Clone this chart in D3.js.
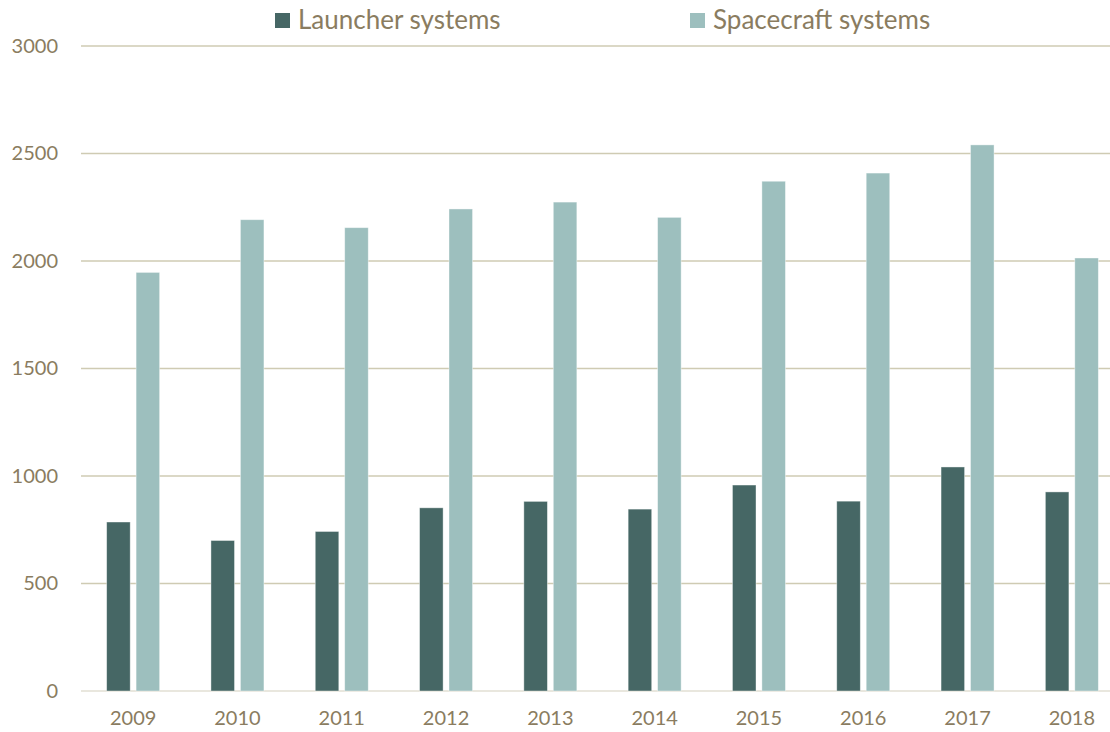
<!DOCTYPE html>
<html>
<head>
<meta charset="utf-8">
<script src="https://cdn.jsdelivr.net/npm/d3@7"></script>
<style>
  body { margin: 0; background: #fff; }
  svg { display: block; font-family: Lato, "Open Sans", sans-serif; }
</style>
</head>
<body>
<div id="container"></div>
<script>
// data
var years = ["2009","2010","2011","2012","2013","2014","2015","2016","2017","2018"];
var launcher = [786, 700, 742, 852, 882, 846, 958, 883, 1042, 926];
var spacecraft = [1947, 2192, 2155, 2242, 2274, 2203, 2371, 2409, 2540, 2014];
var seriesNames = ["Launcher systems", "Spacecraft systems"];
var yTicks = [0, 500, 1000, 1500, 2000, 2500, 3000];

var colors = ["#466765", "#9dbfbe"];
var textColor = "#8a7c60";

var W = 1110, H = 732;
var margin = {top: 46, right: -14, bottom: 41, left: 81};
var width = W - margin.left - margin.right;
var height = H - margin.top - margin.bottom;

var svg = d3.select("#container")
  .append("svg")
    .attr("width", W)
    .attr("height", H);

var g = svg.append("g")
  .attr("transform", "translate(" + margin.left + "," + margin.top + ")");

var x0 = d3.scaleBand()
  .domain(years)
  .range([0, width])
  .padding(0);

var x1 = d3.scaleBand()
  .domain(seriesNames)
  .range([-26.5, 26.5])
  .paddingInner(0.2);

var y = d3.scaleLinear()
  .domain([0, 3000])
  .range([height, 0]);

// gridlines
g.append("g")
  .selectAll("line")
  .data(yTicks)
  .enter()
  .append("line")
    .attr("x1", 0)
    .attr("x2", width)
    .attr("y1", function (d) { return y(d); })
    .attr("y2", function (d) { return y(d); })
    .attr("stroke", function (d) { return d === 0 ? "#e2dfd3" : "#cfcbb3"; })
    .attr("stroke-width", 1.6);

// y axis labels
var yAxis = g.append("g")
  .call(d3.axisLeft(y).tickValues(yTicks).tickFormat(d3.format("d")).tickSize(0).tickPadding(23));
yAxis.select(".domain").remove();
yAxis.attr("font-family", null);
yAxis.selectAll("text")
  .attr("fill", textColor)
  .style("font-size", "20px");

// x axis labels
var xAxis = g.append("g")
  .attr("transform", "translate(0," + height + ")")
  .call(d3.axisBottom(x0).tickSize(0).tickPadding(20));
xAxis.select(".domain").remove();
xAxis.attr("font-family", null);
xAxis.selectAll("text")
  .attr("fill", textColor)
  .style("font-size", "20px");

// bars
var rows = years.map(function (yr, i) {
  return [
    {year: yr, name: seriesNames[0], value: launcher[i], k: 0},
    {year: yr, name: seriesNames[1], value: spacecraft[i], k: 1}
  ];
});

g.append("g")
  .selectAll("g")
  .data(rows)
  .enter()
  .append("g")
    .attr("transform", function (d) {
      return "translate(" + (x0(d[0].year) + x0.bandwidth() / 2) + ",0)";
    })
  .selectAll("rect")
  .data(function (d) { return d; })
  .enter()
  .append("rect")
    .attr("x", function (d) { return x1(d.name); })
    .attr("width", x1.bandwidth())
    .attr("y", function (d) { return y(d.value); })
    .attr("height", function (d) { return y(0) - y(d.value); })
    .attr("fill", function (d) { return colors[d.k]; })
    .attr("stroke", "#ffffff")
    .attr("stroke-opacity", 0.5)
    .attr("stroke-width", 0.8);

// legend
var legendX = [275, 690];
var legend = svg.append("g");
var item = legend.selectAll("g")
  .data(seriesNames)
  .enter()
  .append("g")
    .attr("transform", function (d, i) { return "translate(" + legendX[i] + ",0)"; });

item.append("rect")
  .attr("x", 0)
  .attr("y", 13)
  .attr("width", 15)
  .attr("height", 15)
  .attr("fill", function (d, i) { return colors[i]; });

item.append("text")
  .attr("x", 23)
  .attr("y", 29)
  .attr("fill", textColor)
  .style("font-size", "26px")
  .text(function (d) { return d; });
</script>
</body>
</html>
